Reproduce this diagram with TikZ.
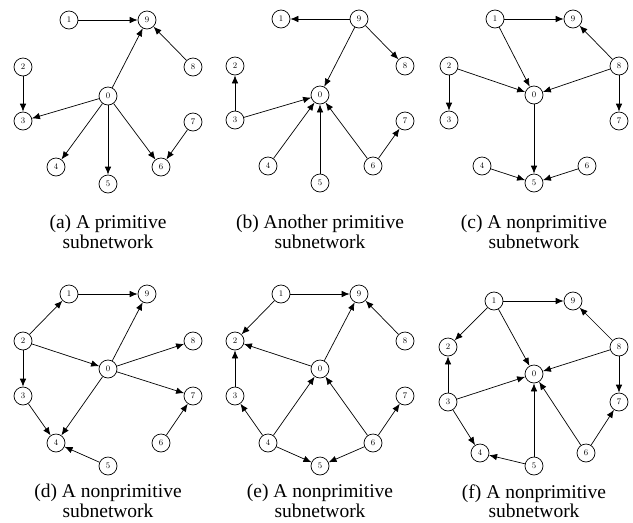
\documentclass[tikz,border=0pt]{standalone}
\usepackage{fontspec}
\usetikzlibrary{arrows.meta}
\newfontfamily\capfont{Liberation Serif}
\tikzset{vtx/.style = {circle, draw, line width=0.7pt, minimum size=18pt, inner sep=0pt, font=\fontsize{8.5}{9}\selectfont}}
\tikzset{edge/.style = {-{Latex[length=8pt, width=6.5pt]}, line width=0.7pt}}
\tikzset{capt/.style = {align=center, inner sep=0pt, font=\capfont\fontsize{19.5}{19.5}\selectfont}}
\def\toprow{0/0/0, 1/-39/-76, 9/39/-76, 2/-85/-29, 8/85/-29, 3/-85/25, 7/85/26, 4/-52/71, 6/53/71, 5/0/88}
\def\botrow{0/0/0, 1/-39/-75, 9/39/-75, 2/-85/-28, 8/85/-28, 3/-85/27, 7/85/27, 4/-52/74, 6/53/74, 5/0/97}
\def\lastrow{0/0/0, 1/-40/-73, 9/39/-73, 2/-86/-27, 8/85/-27, 3/-86/28, 7/85/28, 4/-54/79, 6/52/79, 5/0/92}

\begin{document}
\begin{tikzpicture}[x=1pt, y=-1pt]
\useasboundingbox (0,0) rectangle (633,523);
\begin{scope}[shift={(108,96)}]
\foreach \n/\px/\py in \toprow \node[vtx] (a\n) at (\px,\py) {\n};
\foreach \s/\t in {1/9, 8/9, 0/9, 2/3, 0/3, 0/4, 0/5, 0/6, 7/6} \draw[edge] (a\s) -- (a\t);
\end{scope}
\begin{scope}[shift={(320,95)}]
\foreach \n/\px/\py in \toprow \node[vtx] (b\n) at (\px,\py) {\n};
\foreach \s/\t in {9/1, 9/8, 9/0, 3/2, 3/0, 4/0, 5/0, 6/0, 6/7} \draw[edge] (b\s) -- (b\t);
\end{scope}
\begin{scope}[shift={(534,95)}]
\foreach \n/\px/\py in \toprow \node[vtx] (c\n) at (\px,\py) {\n};
\foreach \s/\t in {1/9, 1/0, 8/9, 8/0, 8/7, 2/0, 2/3, 0/5, 4/5, 6/5} \draw[edge] (c\s) -- (c\t);
\end{scope}
\begin{scope}[shift={(108,369)}]
\foreach \n/\px/\py in \botrow \node[vtx] (d\n) at (\px,\py) {\n};
\foreach \s/\t in {1/9, 2/1, 2/0, 2/3, 0/9, 0/8, 0/7, 0/4, 3/4, 5/4, 6/7} \draw[edge] (d\s) -- (d\t);
\end{scope}
\begin{scope}[shift={(320,369)}]
\foreach \n/\px/\py in \botrow \node[vtx] (e\n) at (\px,\py) {\n};
\foreach \s/\t in {1/9, 1/2, 0/2, 0/9, 8/9, 3/2, 4/3, 4/0, 4/5, 6/5, 6/0, 6/7} \draw[edge] (e\s) -- (e\t);
\end{scope}
\begin{scope}[shift={(534,374)}]
\foreach \n/\px/\py in \lastrow \node[vtx] (f\n) at (\px,\py) {\n};
\foreach \s/\t in {1/9, 1/2, 1/0, 8/9, 8/0, 8/7, 3/2, 3/0, 3/4, 5/4, 5/0, 6/0, 6/7} \draw[edge] (f\s) -- (f\t);
\end{scope}
\node[capt] (capa) at (108,232) {(a) A primitive\\subnetwork};
\node[capt] (capb) at (320,232) {(b) Another primitive\\subnetwork};
\node[capt] (capc) at (534,232) {(c) A nonprimitive\\subnetwork};
\node[capt] (capd) at (108,501) {(d) A nonprimitive\\subnetwork};
\node[capt] (cape) at (320,501) {(e) A nonprimitive\\subnetwork};
\node[capt] (capf) at (534,501) {(f) A nonprimitive\\subnetwork};
\end{tikzpicture}
\end{document}
